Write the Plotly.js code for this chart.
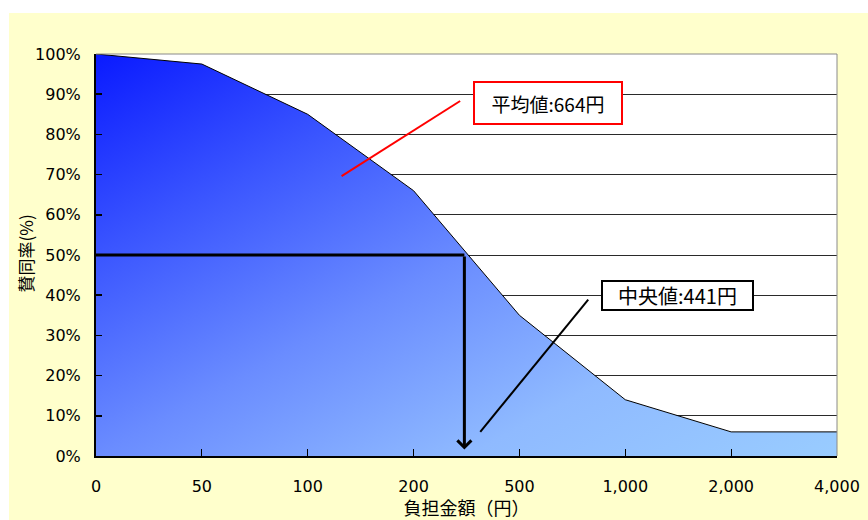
<!DOCTYPE html>
<html>
<head>
<meta charset="utf-8">
<script src="https://cdn.plot.ly/plotly-3.0.1.min.js"></script>
<style>
  html, body { margin: 0; padding: 0; background: #ffffff; }
  #chart { width: 868px; height: 520px; }
</style>
</head>
<body>
<div id="chart"></div>
<script>
// ---- data ----
const categories   = ['0', '50', '100', '200', '500', '1,000', '2,000', '4,000'];
const approvalRate = [100, 97.5, 85, 66, 35, 14, 6, 6];          // 賛同率 (%)
const yTickValues  = [0, 10, 20, 30, 40, 50, 60, 70, 80, 90, 100];
const yTickLabels  = ['0%', '10%', '20%', '30%', '40%', '50%', '60%', '70%', '80%', '90%', '100%'];
const xTitle       = '負担金額（円）';
const yTitle       = '賛同率(%)';
const meanLabel    = '平均値:664円';
const medianLabel  = '中央値:441円';
const medianRate   = 50;       // 50% line
const medianXPos   = 3.48;     // where the median arrow meets the axis (category index)

// ---- styling ----
const tickFont  = 'DejaVu Sans, Noto Sans CJK JP, sans-serif';
const jpFont    = 'Noto Sans CJK JP, sans-serif';

const trace = {
  type: 'scatter',
  mode: 'lines',
  x: categories,
  y: approvalRate,
  line: { color: '#000000', width: 1 },
  fill: 'tozeroy',
  fillcolor: '#5a7dff',
  fillgradient: { type: 'horizontal', colorscale: [[0, '#0A1AFF'], [1, '#99CCFF']] },
  hoverinfo: 'skip',
  showlegend: false
};

const layout = {
  width: 868,
  height: 520,
  margin: { l: 96, r: 31, t: 54, b: 64 },
  paper_bgcolor: '#ffffff',
  plot_bgcolor: '#ffffff',
  showlegend: false,
  xaxis: {
    type: 'category',
    range: [0, categories.length - 1],
    showgrid: false,
    zeroline: false,
    showline: true,
    linecolor: '#000000',
    linewidth: 2,
    ticks: 'inside',
    ticklen: 7,
    tickwidth: 1,
    tickcolor: '#000000',
    ticklabelstandoff: 15,
    tickfont: { family: tickFont, size: 16, color: '#000000' },
    title: { text: xTitle, font: { family: jpFont, size: 18, color: '#000000' }, standoff: 4 },
    fixedrange: true
  },
  yaxis: {
    range: [0, 100],
    tickvals: yTickValues,
    ticktext: yTickLabels,
    showgrid: true,
    gridcolor: '#2a2a2a',
    gridwidth: 1,
    zeroline: false,
    showline: true,
    linecolor: '#000000',
    linewidth: 2,
    ticks: 'inside',
    ticklen: 6,
    tickwidth: 1.5,
    tickcolor: '#000000',
    ticklabelstandoff: 10,
    tickfont: { family: tickFont, size: 16, color: '#000000' },
    fixedrange: true
  },
  shapes: [
    // pale yellow chart area
    { type: 'rect', xref: 'paper', yref: 'paper', x0: -0.1174, x1: 1.06, y0: -0.2, y1: 1.102,
      fillcolor: '#FFFFCC', line: { width: 0 }, layer: 'below' },
    // white plot area
    { type: 'rect', xref: 'paper', yref: 'paper', x0: 0, x1: 1, y0: 0, y1: 1,
      fillcolor: '#FFFFFF', line: { width: 0 }, layer: 'below' },
    // grey top / right frame
    { type: 'line', xref: 'paper', yref: 'paper', x0: 0, x1: 1, y0: 1, y1: 1,
      line: { color: '#8a8a8a', width: 1 } },
    { type: 'line', xref: 'paper', yref: 'paper', x0: 1, x1: 1, y0: 0, y1: 1,
      line: { color: '#8a8a8a', width: 1 } },
    // 50% median guide line
    { type: 'line', xref: 'x', yref: 'y', x0: 0, x1: medianXPos, y0: medianRate, y1: medianRate,
      line: { color: '#000000', width: 3 } },
    // red callout line (mean)
    { type: 'line', xref: 'x', yref: 'y', x0: 2.32, y0: 69.6, x1: 3.44, y1: 88.3,
      line: { color: '#FF0000', width: 2 } },
    // black callout line (median)
    { type: 'line', xref: 'x', yref: 'y', x0: 3.63, y0: 6.0, x1: 4.65, y1: 38.9,
      line: { color: '#000000', width: 2 } }
  ],
  annotations: [
    // y axis title (vertical)
    { xref: 'paper', yref: 'paper', x: -0.0958, y: 0.504, xanchor: 'center', yanchor: 'middle',
      text: yTitle, textangle: -90, showarrow: false,
      font: { family: jpFont, size: 17, color: '#000000' } },
    // vertical arrow down from the 50% line
    { xref: 'x', yref: 'y', x: medianXPos, y: 1.6, axref: 'x', ayref: 'y', ax: medianXPos, ay: medianRate,
      text: '', showarrow: true, arrowhead: 4, arrowsize: 0.9, arrowwidth: 3, arrowcolor: '#000000', standoff: 0 },
    // mean box
    { xref: 'x', yref: 'y', x: 4.27, y: 87.9, xanchor: 'center', yanchor: 'middle',
      text: meanLabel, showarrow: false,
      font: { family: jpFont, size: 19, color: '#000000' },
      bgcolor: '#FFFFFF', bordercolor: '#FF0000', borderwidth: 2, borderpad: 1,
      width: 144, height: 38 },
    // median box
    { xref: 'x', yref: 'y', x: 5.49, y: 40.0, xanchor: 'center', yanchor: 'middle',
      text: medianLabel, showarrow: false,
      font: { family: jpFont, size: 20, color: '#000000' },
      bgcolor: '#FFFFFF', bordercolor: '#000000', borderwidth: 2, borderpad: 1,
      width: 147, height: 25 }
  ]
};

Plotly.newPlot('chart', [trace], layout, { staticPlot: true, displayModeBar: false }).then(function (gd) {
  // diagonal (top-left -> bottom-right) gradient for the filled area
  const ns = 'http://www.w3.org/2000/svg';
  const svg = gd.querySelector('svg.main-svg');
  let defs = svg.querySelector('defs');
  if (!defs) { defs = document.createElementNS(ns, 'defs'); svg.insertBefore(defs, svg.firstChild); }
  const lg = document.createElementNS(ns, 'linearGradient');
  lg.setAttribute('id', 'diagFill');
  lg.setAttribute('x1', '0'); lg.setAttribute('y1', '0');
  lg.setAttribute('x2', '1'); lg.setAttribute('y2', '1');
  [[0, '#0A1AFF'], [0.25, '#3A55FF'], [0.5, '#6A8CFF'], [0.75, '#8FBAFF'], [1, '#99CCFF']].forEach(function (s) {
    const st = document.createElementNS(ns, 'stop');
    st.setAttribute('offset', String(s[0]));
    st.setAttribute('stop-color', s[1]);
    lg.appendChild(st);
  });
  defs.appendChild(lg);
  gd.querySelectorAll('.js-fill').forEach(function (p) { p.style.fill = 'url(#diagFill)'; });
});
</script>
</body>
</html>
